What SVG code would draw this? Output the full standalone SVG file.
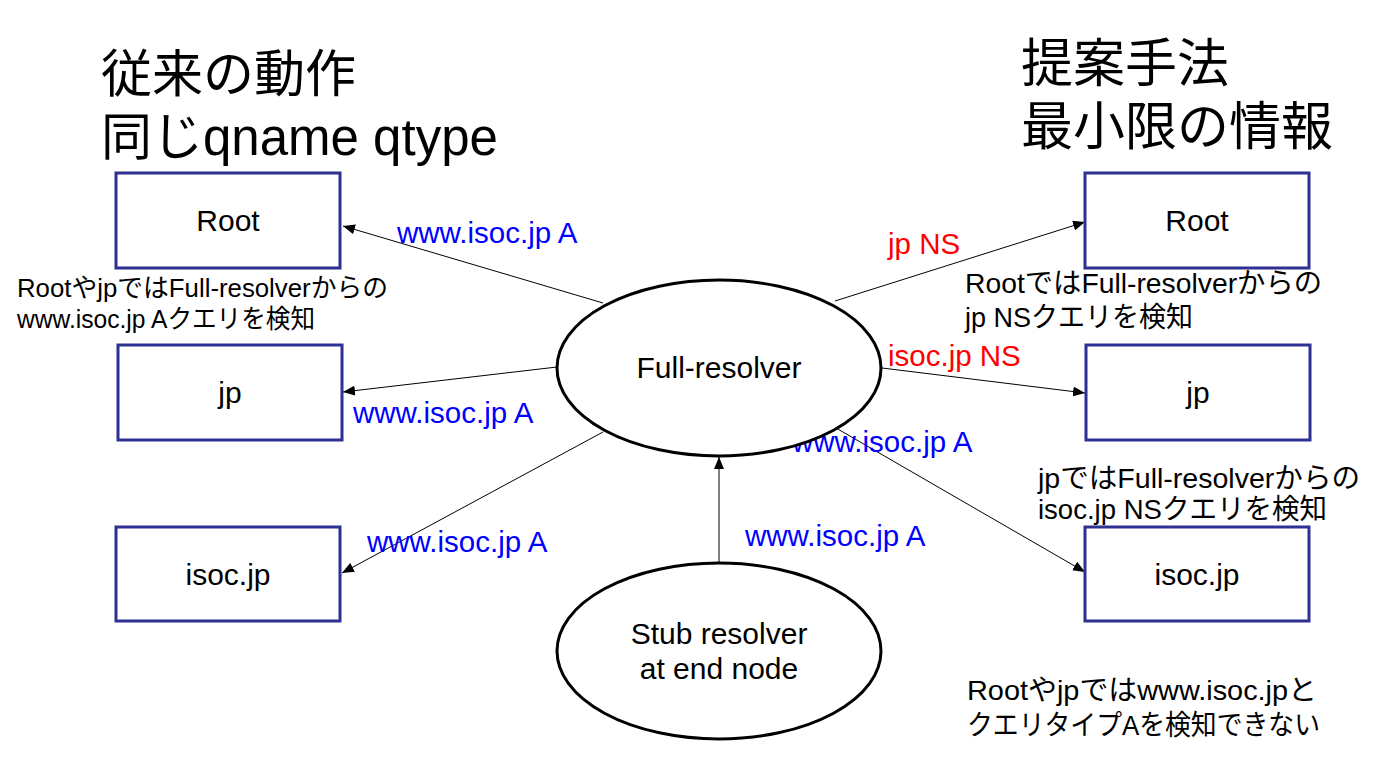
<svg xmlns="http://www.w3.org/2000/svg" width="1381" height="777" viewBox="0 0 1381 777">
<style>
text{font-family:"Liberation Sans","Noto Sans CJK JP",sans-serif}
.box{fill:#fff;stroke:#2E3192;stroke-width:3}
.ell{fill:#fff;stroke:#000;stroke-width:3}
.lbl{font-size:30px;fill:#000;text-anchor:middle}
.blue{font-size:29.5px;fill:#0000FF}
.red{font-size:29.5px;fill:#FF0000}
.note{font-size:28px;fill:#000}
.noteS{font-size:26px;fill:#000}
.title{font-size:51px;fill:#000}
.title2{font-size:52px;fill:#000}
.edge{stroke:#000;stroke-width:1;fill:none;marker-end:url(#ah)}
</style>
<defs>
<marker id="ah" viewBox="0 0 12 10" refX="12" refY="5" markerWidth="12" markerHeight="10" markerUnits="userSpaceOnUse" orient="auto">
<path d="M0,0 L12,5 L0,10 Z" fill="#000"/>
</marker>
</defs>
<rect width="1381" height="777" fill="#fff"/>
<g id="titles">
<text class="title" x="101" y="92">従来の動作</text>
<text class="title" x="101" y="155">同じqname qtype</text>
<text class="title2" x="1021" y="82">提案手法</text>
<text class="title2" x="1021" y="145">最小限の情報</text>
</g>
<g id="connectors">
<line class="edge" x1="603" y1="303" x2="343" y2="226"/>
<line class="edge" x1="557" y1="367" x2="343" y2="392"/>
<line class="edge" x1="603" y1="432" x2="342" y2="573"/>
<line class="edge" x1="835" y1="301" x2="1085" y2="222"/>
<line class="edge" x1="882" y1="368" x2="1085" y2="393"/>
<line class="edge" x1="836" y1="428" x2="1085" y2="572"/>
<line class="edge" x1="719" y1="563" x2="719" y2="457"/>
</g>
<g id="edge-labels">
<text class="blue" x="397" y="243">www.isoc.jp A</text>
<text class="blue" x="353" y="423">www.isoc.jp A</text>
<text class="blue" x="367" y="552">www.isoc.jp A</text>
<text class="red" x="888" y="254">jp NS</text>
<text class="red" x="888" y="366">isoc.jp NS</text>
<text class="blue" x="792" y="452">www.isoc.jp A</text>
<text class="blue" x="745" y="546">www.isoc.jp A</text>
</g>
<g id="left-root"><rect class="box" x="116" y="173" width="224" height="95"/><text class="lbl" x="228" y="231">Root</text></g>
<g id="left-jp"><rect class="box" x="118" y="345" width="224" height="95"/><text class="lbl" x="230" y="403">jp</text></g>
<g id="left-isoc"><rect class="box" x="116" y="527" width="224" height="94"/><text class="lbl" x="228" y="585">isoc.jp</text></g>
<g id="right-root"><rect class="box" x="1085" y="173" width="224" height="95"/><text class="lbl" x="1197" y="231">Root</text></g>
<g id="right-jp"><rect class="box" x="1086" y="345" width="224" height="95"/><text class="lbl" x="1198" y="403">jp</text></g>
<g id="right-isoc"><rect class="box" x="1085" y="527" width="224" height="94"/><text class="lbl" x="1197" y="585">isoc.jp</text></g>
<g id="full-resolver"><ellipse class="ell" cx="719" cy="368" rx="162" ry="88"/><text class="lbl" x="719" y="378">Full-resolver</text></g>
<g id="stub-resolver"><ellipse class="ell" cx="719" cy="651" rx="162" ry="88"/><text class="lbl" x="719" y="644">Stub resolver</text><text class="lbl" x="719" y="679">at end node</text></g>
<g id="notes">
<text class="noteS" x="17" y="297" textLength="371" lengthAdjust="spacingAndGlyphs">RootやjpではFull-resolverからの</text>
<text class="noteS" x="17" y="328" textLength="298" lengthAdjust="spacingAndGlyphs">www.isoc.jp Aクエリを検知</text>
<text class="note" x="965" y="293" textLength="357" lengthAdjust="spacingAndGlyphs">RootではFull-resolverからの</text>
<text class="note" x="965" y="327" textLength="228" lengthAdjust="spacingAndGlyphs">jp NSクエリを検知</text>
<text class="note" x="1038" y="488" textLength="322" lengthAdjust="spacingAndGlyphs">jpではFull-resolverからの</text>
<text class="note" x="1038" y="519" textLength="289" lengthAdjust="spacingAndGlyphs">isoc.jp NSクエリを検知</text>
<text class="note" x="967" y="700" textLength="350" lengthAdjust="spacingAndGlyphs">Rootやjpではwww.isoc.jpと</text>
<text class="note" x="967" y="735" textLength="353" lengthAdjust="spacingAndGlyphs">クエリタイプAを検知できない</text>
</g>
</svg>
